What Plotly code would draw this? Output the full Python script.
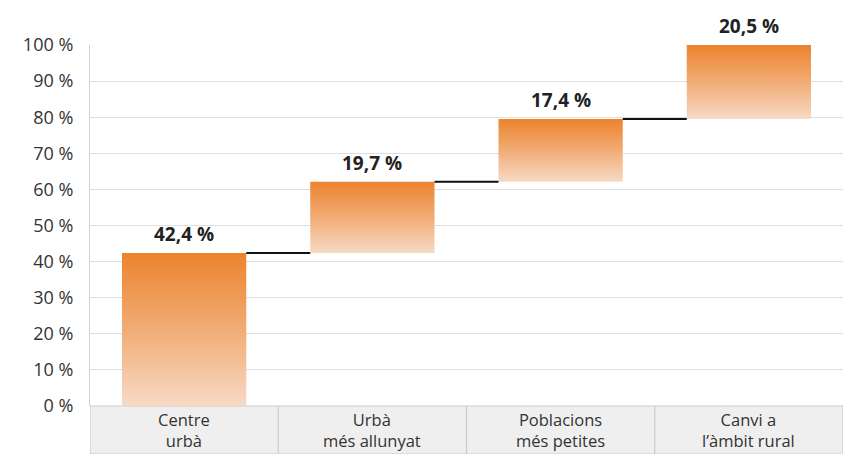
import plotly.graph_objects as go

# Data
categories = ["Centre<br>urbà", "Urbà<br>més allunyat",
              "Poblacions<br>més petites", "Canvi a<br>l’àmbit rural"]
values = [42.4, 19.7, 17.4, 20.5]
y_ticks = [0, 10, 20, 30, 40, 50, 60, 70, 80, 90, 100]
y_tick_labels = [f"{t} %" for t in y_ticks]

ORANGE = "rgb(236,131,44)"
MID = "rgb(241,172,118)"
PEACH = "rgb(247,218,197)"
HALF = 0.33
FONT = "Open Sans"

fig = go.Figure()

# Waterfall steps as gradient-filled rectangles
base = 0.0
bases = []
for i, v in enumerate(values):
    bases.append(base)
    top = base + v
    fig.add_trace(go.Scatter(
        x=[i - HALF, i + HALF, i + HALF, i - HALF, i - HALF],
        y=[base, base, top, top, base],
        mode="lines", line=dict(width=0), fill="toself",
        fillgradient=dict(type="vertical",
                          colorscale=[[0, PEACH], [0.5, MID], [1, ORANGE]]),
        hoverinfo="skip", showlegend=False,
    ))
    fig.add_annotation(
        x=i, y=top, text="<b>" + f"{v:.1f} %".replace(".", ",") + "</b>",
        showarrow=False, yanchor="bottom", yshift=4,
        font=dict(size=19, color="#222222", family=FONT),
    )
    base = top

# Connector lines between consecutive steps
for i in range(len(values) - 1):
    level = bases[i] + values[i]
    fig.add_trace(go.Scatter(
        x=[i + HALF, i + 1 - HALF], y=[level, level], mode="lines",
        line=dict(color="#111111", width=2), hoverinfo="skip", showlegend=False,
    ))

# Category strip below the axis
plot_h = 361
box_h = 48 / plot_h
fig.add_shape(type="rect", xref="x", yref="paper", x0=-0.5, x1=len(values) - 0.5,
              y0=-box_h, y1=0, fillcolor="#efefef", line=dict(color="#cccccc", width=1.2),
              layer="below")
for k in range(1, len(values)):
    fig.add_shape(type="line", xref="x", yref="paper", x0=k - 0.5, x1=k - 0.5,
                  y0=-box_h, y1=0, line=dict(color="#cccccc", width=1.2))
for i, c in enumerate(categories):
    fig.add_annotation(x=i, y=-24 / plot_h, xref="x", yref="paper", text=c,
                       showarrow=False, yanchor="middle", borderpad=0,
                       font=dict(size=16.5, color="#333333", family=FONT))

fig.update_layout(
    width=843, height=454,
    margin=dict(l=90, r=0, t=45, b=48),
    paper_bgcolor="white", plot_bgcolor="white",
    font=dict(family=FONT, color="#333333"),
    xaxis=dict(range=[-0.5, len(values) - 0.5], showgrid=False, zeroline=False,
               showticklabels=False, fixedrange=True),
    yaxis=dict(range=[0, 100], tickvals=y_ticks, ticktext=y_tick_labels,
               showgrid=True, gridcolor="#dedede", gridwidth=1.2, zeroline=False,
               showline=True, linecolor="#d0d0d0", linewidth=1.2,
               ticks="", tickfont=dict(size=18, color="#333333"), ticklabelstandoff=12),
)

fig.write_html("out.html")
